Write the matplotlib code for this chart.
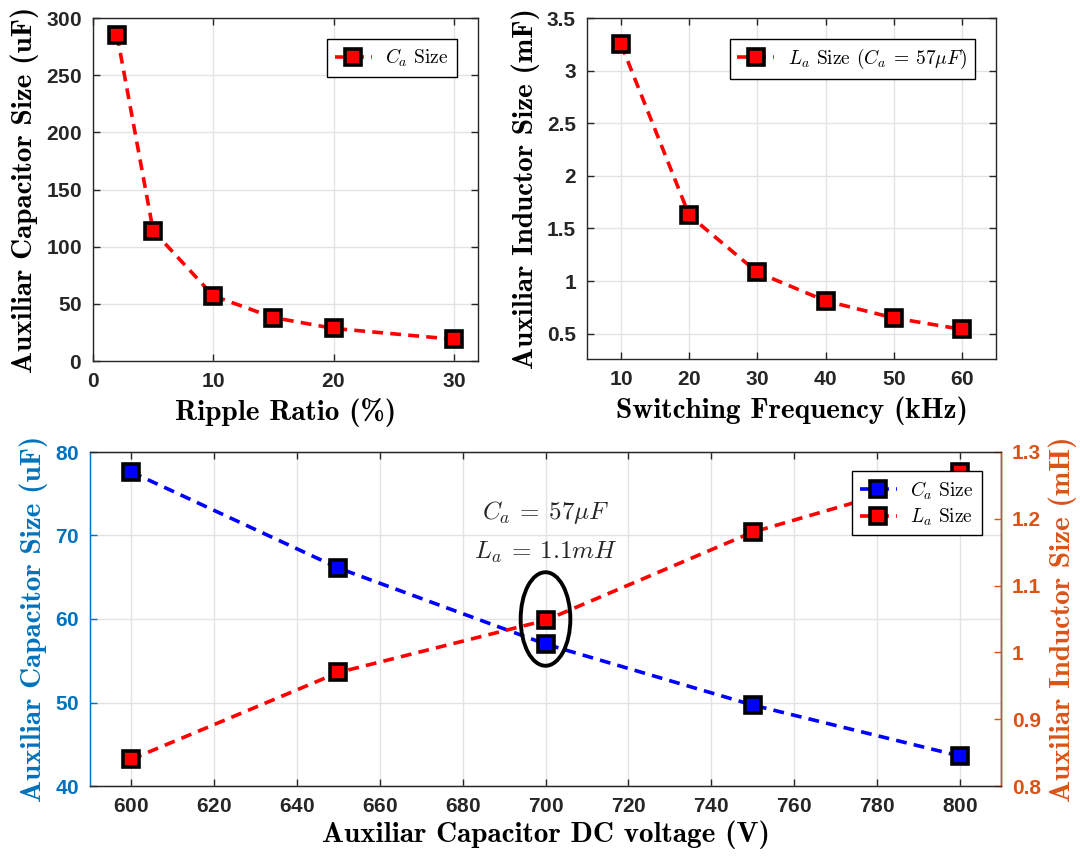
import matplotlib
matplotlib.use("Agg")
import matplotlib.pyplot as plt
from matplotlib.patches import Ellipse

# --- data ---
ripple_ratio = [2, 5, 10, 15, 20, 30]
cap_size_uF = [285, 114, 57, 38, 28.5, 19]

switch_freq_kHz = [10, 20, 30, 40, 50, 60]
ind_size_mH = [3.25, 1.625, 1.083, 0.8125, 0.65, 0.542]

dc_voltage = [600, 650, 700, 750, 800]
cap_vs_v = [77.6, 66.1, 57.0, 49.7, 43.6]
ind_vs_v = [0.84, 0.97, 1.048, 1.18, 1.27]

plt.rcParams["mathtext.fontset"] = "cm"
plt.rcParams["axes.formatter.use_mathtext"] = True

BLUE = "#0072BD"
ORANGE = "#D95319"
TICK_C = "#262626"
GRID_C = "#e3e3e3"

TICK_FAMILY = "Liberation Sans"
TICK_SIZE = 15
label_font = dict(family="cmb10", size=21)
LEG_SIZE = 14

mk = dict(marker="s", markersize=12, markeredgecolor="black",
          markeredgewidth=2.6, linestyle=(0, (3, 2)), linewidth=2.6)

fig = plt.figure(figsize=(10.8, 8.59), dpi=100)
W, H = 1080, 859


def add_ax(l, t, r, b):
    return fig.add_axes([l / W, 1 - b / H, (r - l) / W, (b - t) / H])


def bold_ticks(ax):
    for lab in ax.get_xticklabels() + ax.get_yticklabels():
        lab.set_fontfamily(TICK_FAMILY)
        lab.set_fontweight("bold")
        lab.set_fontsize(TICK_SIZE)


def style(ax):
    ax.grid(True, color=GRID_C, linewidth=1.0)
    ax.set_axisbelow(True)
    ax.tick_params(direction="in", length=5, width=1, colors=TICK_C,
                   top=True, right=True, pad=8)
    bold_ticks(ax)
    for s in ax.spines.values():
        s.set_color(TICK_C)
        s.set_linewidth(1.0)


def make_legend(ax, **kw):
    leg = ax.legend(prop=dict(family="cmr10", size=LEG_SIZE), fancybox=False,
                    edgecolor="black", framealpha=1, handlelength=1.9,
                    handletextpad=0.7, **kw)
    leg.get_frame().set_linewidth(1.0)
    return leg


# top-left: capacitor vs ripple ratio
ax1 = add_ax(93, 18, 478, 361)
ax1.plot(ripple_ratio, cap_size_uF, color="red", markerfacecolor="red",
         label=r"$C_a$ Size", **mk)
ax1.set_xlim(0, 32)
ax1.set_ylim(0, 300)
ax1.set_xticks([0, 10, 20, 30])
ax1.set_yticks([0, 50, 100, 150, 200, 250, 300])
style(ax1)
ax1.set_xlabel("Ripple Ratio (%)", fontdict=label_font, labelpad=5)
ax1.set_ylabel("Auxiliar Capacitor Size (uF)", fontdict=label_font, labelpad=5)
make_legend(ax1, loc="upper right", borderaxespad=1.1)

# top-right: inductor vs switching frequency
ax2 = add_ax(587, 18, 996, 359)
ax2.plot(switch_freq_kHz, ind_size_mH, color="red", markerfacecolor="red",
         label=r"$L_a$ Size $(C_a \:=\: 57\mu F)$", **mk)
ax2.set_xlim(5, 65)
ax2.set_ylim(0.26, 3.5)
ax2.set_xticks([10, 20, 30, 40, 50, 60])
ax2.set_yticks([0.5, 1, 1.5, 2, 2.5, 3, 3.5])
ax2.set_yticklabels(["0.5", "1", "1.5", "2", "2.5", "3", "3.5"])
style(ax2)
ax2.set_xlabel("Switching Frequency (kHz)", fontdict=label_font, labelpad=5)
ax2.set_ylabel("Auxiliar Inductor Size (mF)", fontdict=label_font, labelpad=5)
make_legend(ax2, loc="upper right", borderaxespad=1.1)

# bottom: both components vs DC voltage
ax3 = add_ax(90, 452, 1001, 786)
ax3r = ax3.twinx()
l1, = ax3.plot(dc_voltage, cap_vs_v, color="blue", markerfacecolor="blue",
               label=r"$C_a$ Size", **mk)
l2, = ax3r.plot(dc_voltage, ind_vs_v, color="red", markerfacecolor="red",
                label=r"$L_a$ Size", **mk)
ax3.set_xlim(590, 810)
ax3.set_ylim(40, 80)
ax3r.set_ylim(0.8, 1.3)
ax3.set_xticks(range(600, 801, 20))
ax3.set_yticks([40, 50, 60, 70, 80])
ax3r.set_yticks([0.8, 0.9, 1.0, 1.1, 1.2, 1.3])
ax3r.set_yticklabels(["0.8", "0.9", "1", "1.1", "1.2", "1.3"])
style(ax3)
ax3.tick_params(right=False)
ax3r.tick_params(direction="in", length=5, width=1, colors=ORANGE, pad=8)
bold_ticks(ax3r)
ax3.tick_params(axis="y", colors=BLUE)
ax3.spines["left"].set_color(BLUE)
ax3r.spines["left"].set_color(BLUE)
ax3r.spines["right"].set_color(ORANGE)
ax3r.spines["right"].set_linewidth(1.0)
ax3r.spines["top"].set_color(TICK_C)
ax3r.spines["bottom"].set_color(TICK_C)

ax3.set_xlabel("Auxiliar Capacitor DC voltage (V)", fontdict=label_font, labelpad=3)
ax3.set_ylabel("Auxiliar Capacitor Size (uF)", fontdict=label_font,
               color=BLUE, labelpad=5)
ax3r.set_ylabel("Auxiliar Inductor Size (mH)", fontdict=label_font,
                color=ORANGE, labelpad=5)

# highlight the chosen operating point
ax3r.add_patch(Ellipse((700, 1.05), 12, 0.14, fill=False,
                       edgecolor="black", linewidth=2.8, zorder=5))
ax3r.text(700, 1.21, r"$C_a \:=\: 57\mu F$", ha="center", va="center",
          fontsize=18, color=TICK_C)
ax3r.text(700, 1.15, r"$L_a \:=\: 1.1mH$", ha="center", va="center",
          fontsize=18, color=TICK_C)

make_legend(ax3r, handles=[l1, l2], loc="upper right", borderaxespad=1.0,
            labelspacing=0.25)

fig.savefig("out.png", dpi=100)
